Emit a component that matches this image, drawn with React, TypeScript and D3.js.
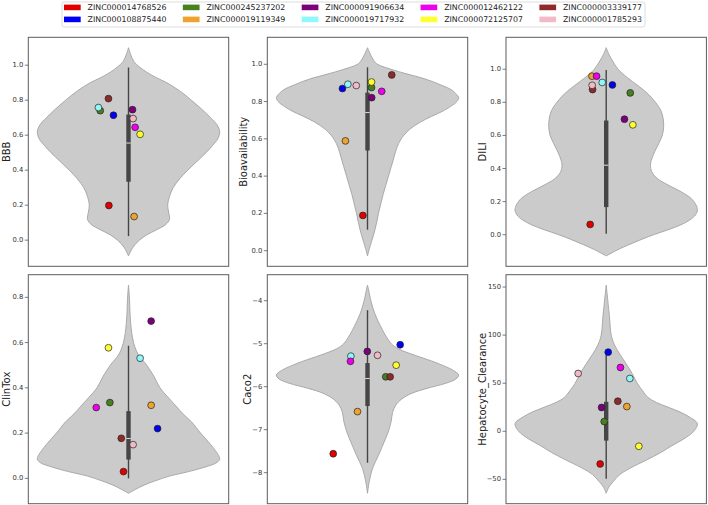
import React from 'react';
import * as d3 from 'd3';

// Compounds in legend order (matplotlib fills the 5 legend columns top-to-bottom)
const compounds = [
  'ZINC000014768526', 'ZINC000108875440', 'ZINC000245237202', 'ZINC000019119349',
  'ZINC000091906634', 'ZINC000019717932', 'ZINC000012462122', 'ZINC000072125707',
  'ZINC000003339177', 'ZINC000001785293',
];
const compoundColors = [
  '#e00000', '#0000f5', '#46801f', '#eea32e', '#7c007c',
  '#8ff8f8', '#ee00ee', '#ffff30', '#8e2a2a', '#f2b9c6',
];

// Predicted property values for each compound
const bbbValues = [0.198, 0.714, 0.740, 0.135, 0.746, 0.758, 0.645, 0.605, 0.809, 0.695];
const bioValues = [0.189, 0.870, 0.875, 0.589, 0.821, 0.893, 0.855, 0.905, 0.943, 0.886];
const diliValues = [0.062, 0.905, 0.857, 0.958, 0.698, 0.920, 0.958, 0.664, 0.877, 0.903];
const clinToxValues = [0.030, 0.220, 0.335, 0.323, 0.695, 0.531, 0.313, 0.577, 0.177, 0.149];
const caco2Values = [-7.56, -5.025, -5.77, -6.58, -5.18, -5.29, -5.41, -5.50, -5.77, -5.27];
const hepValues = [-34.0, 82.3, 10.1, 25.7, 24.7, 54.9, 66.3, -15.6, 31.25, 60.1];

// Horizontal strip jitter of each compound (category units, violin centred at 0)
const bbbJitter = [-0.098, -0.075, -0.141, 0.028, 0.020, -0.150, 0.033, 0.058, -0.100, 0.023];
const bioJitter = [-0.023, -0.125, 0.020, -0.110, 0.021, -0.098, 0.071, 0.020, 0.121, -0.056];
const diliJitter = [-0.080, 0.031, 0.120, -0.071, 0.091, -0.020, -0.048, 0.133, -0.068, -0.070];
const clinToxJitter = [-0.025, 0.145, -0.093, 0.113, 0.113, 0.058, -0.161, -0.100, -0.036, 0.023];
const caco2Jitter = [-0.171, 0.163, 0.091, -0.050, -0.001, -0.083, -0.085, 0.143, 0.113, 0.050];
const hepJitter = [-0.030, 0.010, -0.010, 0.103, -0.023, 0.118, 0.071, 0.163, 0.058, -0.140];

// Reference-distribution density profiles: [value, relative half-width]
const bbbDensity: [number, number][] = [
  [1.10, 0], [1.06, 0.025], [1.02, 0.06], [0.99, 0.12], [0.96, 0.2], [0.93, 0.3],
  [0.90, 0.42], [0.85, 0.57], [0.80, 0.69], [0.75, 0.80], [0.70, 0.90], [0.66, 0.97],
  [0.62, 1.0], [0.58, 0.98], [0.54, 0.92], [0.50, 0.85], [0.45, 0.75], [0.40, 0.65],
  [0.35, 0.56], [0.30, 0.49], [0.25, 0.45], [0.20, 0.43], [0.16, 0.44], [0.12, 0.45],
  [0.09, 0.41], [0.06, 0.31], [0.03, 0.20], [0.00, 0.12], [-0.04, 0.05], [-0.09, 0],
];
const bioDensity: [number, number][] = [
  [1.089, 0], [1.05, 0.035], [1.02, 0.07], [1.0, 0.11], [0.97, 0.28], [0.95, 0.42],
  [0.92, 0.64], [0.89, 0.8], [0.86, 0.93], [0.83, 0.99], [0.82, 1.0], [0.80, 0.98],
  [0.78, 0.93], [0.75, 0.83], [0.72, 0.70], [0.69, 0.58], [0.65, 0.46], [0.60, 0.37],
  [0.55, 0.32], [0.50, 0.29], [0.45, 0.26], [0.40, 0.23], [0.35, 0.20], [0.30, 0.17],
  [0.25, 0.145], [0.20, 0.12], [0.15, 0.10], [0.10, 0.075], [0.05, 0.045], [0.01, 0.02],
  [-0.028, 0],
];
const diliDensity: [number, number][] = [
  [1.13, 0], [1.09, 0.03], [1.05, 0.07], [1.0, 0.13], [0.95, 0.23], [0.90, 0.35],
  [0.85, 0.46], [0.80, 0.54], [0.75, 0.60], [0.70, 0.625], [0.65, 0.63], [0.60, 0.615],
  [0.55, 0.575], [0.50, 0.53], [0.45, 0.495], [0.42, 0.485], [0.38, 0.50], [0.34, 0.56],
  [0.30, 0.68], [0.26, 0.82], [0.22, 0.93], [0.18, 0.985], [0.15, 1.0], [0.12, 0.98],
  [0.09, 0.92], [0.06, 0.82], [0.03, 0.68], [0.0, 0.52], [-0.03, 0.38], [-0.06, 0.25],
  [-0.09, 0.13], [-0.11, 0.06], [-0.128, 0],
];
const clinToxDensity: [number, number][] = [
  [0.854, 0], [0.80, 0.01], [0.72, 0.018], [0.66, 0.03], [0.62, 0.045], [0.58, 0.07],
  [0.545, 0.11], [0.50, 0.20], [0.45, 0.28], [0.40, 0.345], [0.36, 0.43], [0.32, 0.52],
  [0.28, 0.61], [0.25, 0.69], [0.20, 0.79], [0.15, 0.9], [0.10, 0.99], [0.085, 1.0],
  [0.07, 0.97], [0.05, 0.84], [0.03, 0.66], [0.01, 0.45], [-0.01, 0.3], [-0.03, 0.17],
  [-0.05, 0.07], [-0.066, 0],
];
const caco2Density: [number, number][] = [
  [-3.637, 0], [-3.75, 0.012], [-4.0, 0.037], [-4.3, 0.08], [-4.6, 0.145], [-4.85, 0.21],
  [-5.0, 0.26], [-5.12, 0.34], [-5.27, 0.52], [-5.4, 0.7], [-5.5, 0.82], [-5.62, 0.94],
  [-5.73, 1.0], [-5.82, 0.97], [-5.92, 0.86], [-6.04, 0.65], [-6.15, 0.49], [-6.28, 0.38],
  [-6.43, 0.31], [-6.6, 0.275], [-6.8, 0.26], [-7.0, 0.235], [-7.2, 0.2], [-7.4, 0.16],
  [-7.6, 0.12], [-7.9, 0.055], [-8.2, 0.02], [-8.48, 0],
];
const hepDensity: [number, number][] = [
  [152, 0], [120, 0.035], [100, 0.055], [90, 0.09], [80, 0.15], [70, 0.22], [60, 0.285],
  [50, 0.34], [42, 0.40], [35, 0.46], [30, 0.55], [25, 0.68], [20, 0.81], [15, 0.91],
  [8, 1.0], [0, 0.96], [-8, 0.85], [-15, 0.72], [-22, 0.6], [-30, 0.44], [-38, 0.27],
  [-45, 0.15], [-52, 0.08], [-58, 0.03], [-64.5, 0],
];

// Inner box: [lower whisker, Q1, median, Q3, upper whisker]
const bbbBox = [0.023, 0.334, 0.555, 0.718, 0.987];
const bioBox = [0.1125, 0.5375, 0.741, 0.848, 0.984];
const diliBox = [0.006, 0.167, 0.42, 0.690, 0.996];
const clinToxBox = [0.0, 0.083, 0.176, 0.297, 0.586];
const caco2Box = [-7.77, -6.45, -5.81, -5.45, -4.22];
const hepBox = [-49.3, -9.7, 11, 30.6, 79.2];

// Y tick labels
const unitTicks = [0.0, 0.2, 0.4, 0.6, 0.8, 1.0];
const clinToxTicks = [0.0, 0.2, 0.4, 0.6, 0.8];
const caco2Ticks = [-8, -7, -6, -5, -4];
const hepTicks = [-50, 0, 50, 100, 150];

const fmt1 = (v: number) => d3.format('.1f')(v).replace('-', '\u2212');
const fmt0 = (v: number) => d3.format('d')(v).replace('-', '\u2212');

const panels = [
  { label: 'BBB', values: bbbValues, jitter: bbbJitter, density: bbbDensity, box: bbbBox, ticks: unitTicks, fmt: fmt1 },
  { label: 'Bioavailability', values: bioValues, jitter: bioJitter, density: bioDensity, box: bioBox, ticks: unitTicks, fmt: fmt1 },
  { label: 'DILI', values: diliValues, jitter: diliJitter, density: diliDensity, box: diliBox, ticks: unitTicks, fmt: fmt1 },
  { label: 'ClinTox', values: clinToxValues, jitter: clinToxJitter, density: clinToxDensity, box: clinToxBox, ticks: clinToxTicks, fmt: fmt1 },
  { label: 'Caco2', values: caco2Values, jitter: caco2Jitter, density: caco2Density, box: caco2Box, ticks: caco2Ticks, fmt: fmt0 },
  { label: 'Hepatocyte_Clearance', values: hepValues, jitter: hepJitter, density: hepDensity, box: hepBox, ticks: hepTicks, fmt: fmt0 },
];

const W = 708;
const H = 505;
const FONT = 'DejaVu Sans, sans-serif';
const colLeft = [28.3, 267.3, 506];
const rowTop = [37.3, 274.7];
const panelW = 200.4;
const panelH = 229;
const halfWidth = 0.455;

function Panel({ p, left, top }: { p: typeof panels[number]; left: number; top: number }) {
  const lo = d3.min(p.density, (d) => d[0]) as number;
  const hi = d3.max(p.density, (d) => d[0]) as number;
  const pad = (hi - lo) * 0.05;
  const y = d3.scaleLinear().domain([lo - pad, hi + pad]).range([top + panelH, top]);
  const x = d3.scaleLinear().domain([-0.5, 0.5]).range([left, left + panelW]);

  const area = d3
    .area<[number, number]>()
    .y((d) => y(d[0]))
    .x0((d) => x(-d[1] * halfWidth))
    .x1((d) => x(d[1] * halfWidth))
    .curve(d3.curveCatmullRom.alpha(0.5));

  const [wLo, q1, med, q3, wHi] = p.box;
  const cx = x(0);
  const tickFont = 6.8;
  const maxLabelW = (d3.max(p.ticks, (t) => p.fmt(t).length) as number) * tickFont * 0.62;
  const labelX = Math.max(6, left - 5 - maxLabelW - 6);

  return (
    <g>
      <path d={area(p.density) as string} fill="#cbcbcb" stroke="#a3a3a3" strokeWidth={0.9} />
      <line x1={cx} x2={cx} y1={y(wLo)} y2={y(wHi)} stroke="#454545" strokeWidth={1.4} />
      <rect x={cx - 2.2} width={4.4} y={y(q3)} height={y(q1) - y(q3)} fill="#454545" />
      <line x1={cx - 2.2} x2={cx + 2.2} y1={y(med)} y2={y(med)} stroke="#f0f0f0" strokeWidth={0.9} />
      {p.values.map((v, i) => (
        <circle
          key={i}
          cx={x(p.jitter[i])}
          cy={y(v)}
          r={3.4}
          fill={compoundColors[i]}
          stroke="#222"
          strokeWidth={0.7}
        />
      ))}
      <rect x={left} y={top} width={panelW} height={panelH} fill="none" stroke="#5c5c5c" strokeWidth={1} />
      {p.ticks.map((t) => (
        <g key={t}>
          <line x1={left - 3.5} x2={left} y1={y(t)} y2={y(t)} stroke="#5c5c5c" strokeWidth={0.8} />
          <text
            x={left - 5}
            y={y(t)}
            textAnchor="end"
            dominantBaseline="central"
            fontSize={tickFont}
            fontFamily={FONT}
            fill="#333"
          >
            {p.fmt(t)}
          </text>
        </g>
      ))}
      <text
        transform={`translate(${labelX},${top + panelH / 2}) rotate(-90)`}
        textAnchor="middle"
        dominantBaseline="central"
        fontSize={10}
        fontFamily={FONT}
        fill="#222"
      >
        {p.label}
      </text>
    </g>
  );
}

function Legend() {
  const colStep = 118.85;
  const rows = 2;
  return (
    <g>
      <rect x={62} y={2} width={583} height={25} rx={2} fill="#fff" stroke="#d4d4d4" strokeWidth={0.8} />
      {compounds.map((name, i) => {
        const col = Math.floor(i / rows);
        const row = i % rows;
        const sx = 64 + col * colStep;
        const cy = 7.4 + row * 12;
        return (
          <g key={name}>
            <rect x={sx} y={cy - 2.8} width={16.7} height={5.6} fill={compoundColors[i]} />
            <text
              x={sx + 23.6}
              y={cy}
              dominantBaseline="central"
              fontSize={7.85}
              fontFamily={FONT}
              fill="#222"
            >
              {name}
            </text>
          </g>
        );
      })}
    </g>
  );
}

export default function App() {
  return (
    <div style={{ position: 'fixed', left: 0, top: 0, width: W, height: H, background: '#fff' }}>
      <svg width={W} height={H} viewBox={`0 0 ${W} ${H}`}>
        <rect width={W} height={H} fill="#fff" />
        {panels.map((p, i) => (
          <Panel key={p.label} p={p} left={colLeft[i % 3]} top={rowTop[Math.floor(i / 3)]} />
        ))}
        <Legend />
      </svg>
    </div>
  );
}
